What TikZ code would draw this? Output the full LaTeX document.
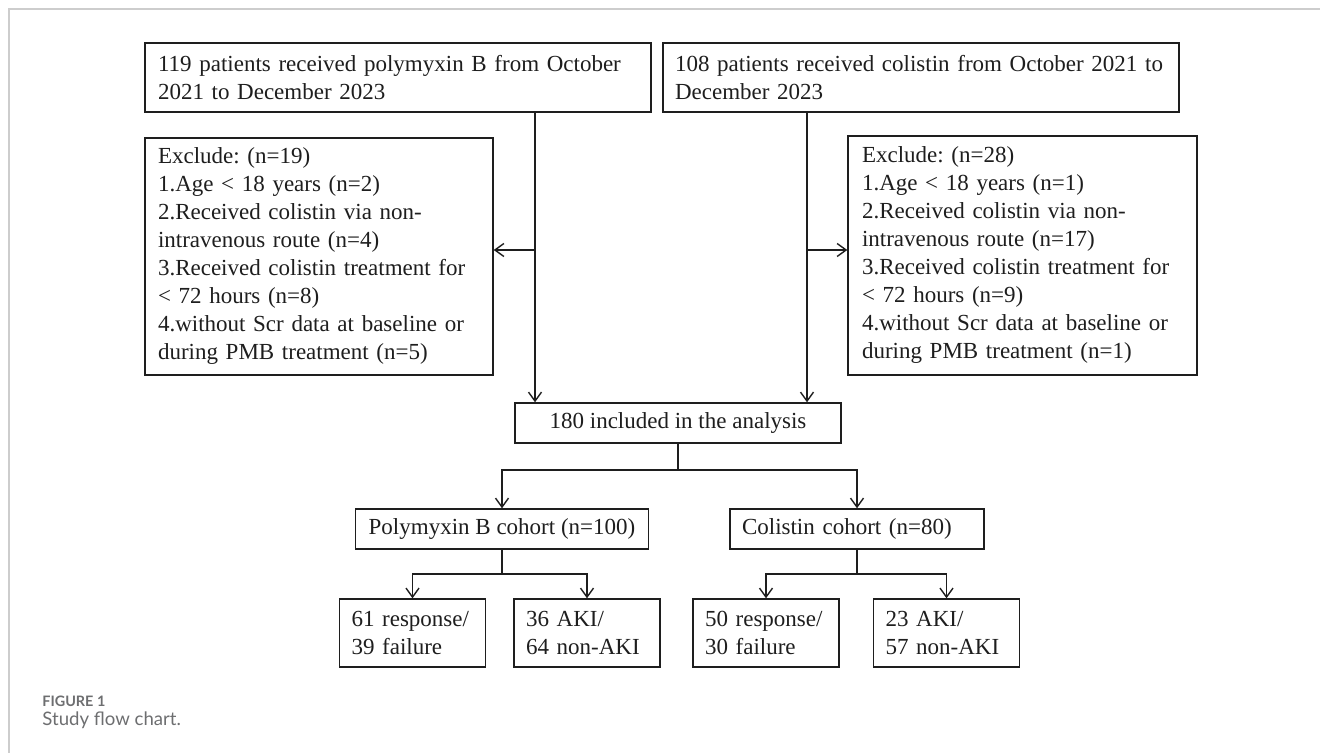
\documentclass[tikz,border=0pt]{standalone}
\usepackage{xcolor}
\usepackage{fontspec}
\setmainfont{Liberation Serif}
\newfontfamily\capfont{Lato}
\usetikzlibrary{arrows.meta,positioning}
\definecolor{Ink}{HTML}{1E1E1E}
\definecolor{FrameGrey}{HTML}{CDCDCD}
\definecolor{CapGrey}{HTML}{6D6E70}
\frenchspacing

\begin{document}
\begin{tikzpicture}[x=.5pt,y=-.5pt]
  \path[use as bounding box] (0,0) rectangle (1320,753);

  \tikzset{
    sfcText/.style={
      font=\fontsize{11.5}{14}\selectfont,
      text=Ink
    },
    sfcBox/.style={
      sfcText,
      draw=Ink,
      fill=white,
      line width=.7pt,
      inner xsep=6.5pt,
      inner ysep=0pt,
      align=left
    },
    sfcMid/.style={
      sfcBox,
      align=center
    },
    sfcLine/.style={
      draw=Ink,
      line width=.7pt
    },
    sfcFlow/.style={
      sfcLine,
      -{Straight Barb[length=4.5pt,width=6.5pt]}
    }
  }

  % page frame
  \draw[FrameGrey, line width=.8pt] (9,753) -- (9,9) -- (1320,9);

  % sources
  \node[sfcBox, text width=240pt, minimum height=34.5pt] (pbStart) at (398,77.5)
    {119 patients received polymyxin B from October\\2021 to December 2023};
  \node[sfcBox, text width=246pt, inner xsep=6pt, minimum height=34.5pt] (coStart) at (921,77.5)
    {108 patients received colistin from October 2021 to\\December 2023};

  % exclusions
  \node[sfcBox, text width=161pt, minimum height=118.5pt] (pbExcl) at (319,256.5)
    {Exclude: (n=19)\\1.Age < 18 years (n=2)\\2.Received colistin via non-\\intravenous route (n=4)\\3.Received colistin treatment for\\< 72 hours (n=8)\\4.without Scr data at baseline or\\during PMB treatment (n=5)};
  \node[sfcBox, text width=160.5pt, inner xsep=7pt, minimum height=119.5pt] (coExcl) at (1022.5,255.5)
    {Exclude: (n=28)\\1.Age < 18 years (n=1)\\2.Received colistin via non-\\intravenous route (n=17)\\3.Received colistin treatment for\\< 72 hours (n=9)\\4.without Scr data at baseline or\\during PMB treatment (n=1)};

  % analysis and cohorts
  \node[sfcMid, minimum width=163pt, minimum height=20pt] (allIn) at (678,423)
    {180 included in the analysis};
  \node[sfcMid, minimum width=145pt, minimum height=20pt] (pbCohort) at (502,529)
    {Polymyxin B cohort (n=100)};
  \node[sfcBox, text width=115pt, inner xsep=6pt, minimum height=20pt] (coCohort) at (857,529)
    {Colistin cohort (n=80)};

  % outcomes
  \node[sfcBox, text width=61pt, inner xsep=6pt, minimum height=34pt] (pbResp) at (412.5,633)
    {61 response/\\39 failure};
  \node[sfcBox, text width=61pt, inner xsep=6pt, minimum height=34pt] (pbAki)  at (587,633)
    {36 AKI/\\64 non-AKI};
  \node[sfcBox, text width=61pt, inner xsep=6pt, minimum height=34pt] (coResp) at (766,633)
    {50 response/\\30 failure};
  \node[sfcBox, text width=61pt, inner xsep=6pt, minimum height=34pt] (coAki)  at (946.5,633)
    {23 AKI/\\57 non-AKI};

  \coordinate (pbSplit) at (535,250);
  \coordinate (coSplit) at (807,250);
  \coordinate (allFork) at (678,470);
  \coordinate (pbFork)  at (502,574);
  \coordinate (coFork)  at (857,574);

  \draw[sfcFlow] (pbStart.south -| pbSplit) -- (allIn.north -| pbSplit);
  \draw[sfcFlow] (pbSplit) -- (pbExcl.east |- pbSplit);
  \draw[sfcFlow] (coStart.south -| coSplit) -- (allIn.north -| coSplit);
  \draw[sfcFlow] (coSplit) -- (coExcl.west |- coSplit);

  \draw[sfcLine] (allIn.south) -- (allFork);
  \draw[sfcFlow] (allFork) -| (pbCohort.north);
  \draw[sfcFlow] (allFork) -| (coCohort.north);

  \draw[sfcLine] (pbCohort.south) -- (pbFork);
  \draw[sfcFlow] (pbFork) -| (pbResp.north);
  \draw[sfcFlow] (pbFork) -| (pbAki.north);
  \draw[sfcLine] (coCohort.south) -- (coFork);
  \draw[sfcFlow] (coFork) -| (coResp.north);
  \draw[sfcFlow] (coFork) -| (coAki.north);

  % caption
  \node[anchor=base west, inner sep=0pt, text=CapGrey,
    font=\capfont\bfseries\fontsize{7.2}{8}\selectfont] (figTag) at (42,706) {FIGURE 1};
  \node[anchor=base west, inner sep=0pt, text=CapGrey,
    font=\capfont\fontsize{9.3}{11}\selectfont] (figCap) at (42,725) {Study flow chart.};
\end{tikzpicture}
\end{document}
